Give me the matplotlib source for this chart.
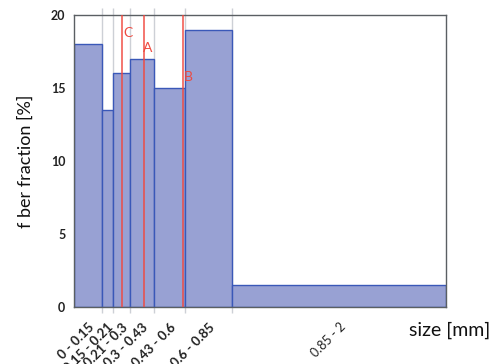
import matplotlib
matplotlib.use('Agg')
import matplotlib.pyplot as plt
from matplotlib.transforms import ScaledTranslation

# bin edges in mm and fiber fraction per bin
edges = [0, 0.15, 0.21, 0.3, 0.43, 0.6, 0.85, 2.0]
fractions = [18, 13.5, 16, 17, 15, 19, 1.5]
bin_labels = ['0 - 0.15', '0.15 - 0.21', '0.21 - 0.3', '0.3 - 0.43',
              '0.43 - 0.6', '0.6 - 0.85', '0.85 - 2']

# marked sizes
marker_names = ['C', 'A', 'B']
marker_pos = [0.261, 0.376, 0.587]
marker_text_xy = [(0.291, 18.77), (0.399, 17.74), (0.613, 15.75)]

plt.rcParams['font.family'] = ['Lato', 'DejaVu Sans']

fig = plt.figure(figsize=(4.93, 3.64), dpi=100)
ax = fig.add_axes([0.1495, 0.1566, 0.7552, 0.8022])

lefts = edges[:-1]
widths = [b - a for a, b in zip(edges[:-1], edges[1:])]
centers = [a + w / 2 for a, w in zip(lefts, widths)]

# gray bin-edge lines reaching past the frame
ax.vlines(edges[1:-1], -0.42, 20.48, color='#cdd0d6', lw=1.0, zorder=0,
          clip_on=False)

ax.bar(lefts, fractions, width=widths, align='edge', color='#98a1d3',
       edgecolor='#3a58b8', linewidth=1.0, zorder=2)

for name, x, (tx, ty) in zip(marker_names, marker_pos, marker_text_xy):
    ax.axvline(x, color='#f0493f', lw=1.4, alpha=0.75, zorder=3)
    ax.text(tx, ty, name, color='#ee4a40', fontsize=10, ha='center',
            va='center', zorder=4)

ax.set_xlim(0, 2)
ax.set_ylim(0, 20)
ax.set_yticks([0, 5, 10, 15, 20])
ax.set_xticks(centers)
ax.set_xticklabels(bin_labels, rotation=45, ha='right', va='top',
                   rotation_mode='anchor', fontsize=9.5)
shift = ScaledTranslation(-4 / 100, 0, fig.dpi_scale_trans)
for lbl in ax.get_xticklabels():
    lbl.set_fontweight('bold')
    lbl.set_transform(lbl.get_transform() + shift)
ax.get_xticklabels()[-1].set_fontweight('normal')
ax.get_xticklabels()[-1].set_fontsize(9)
ax.tick_params(axis='x', length=0, pad=10, colors='#222222')
ax.tick_params(axis='y', length=0, pad=6, labelsize=9, colors='#222222')
for lbl in ax.get_yticklabels():
    lbl.set_fontweight('bold')

for s in ax.spines.values():
    s.set_color('#5a5f63')
    s.set_linewidth(1.0)

ax.set_ylabel('f ber fraction [%]', fontsize=13, color='#111111', labelpad=12)
fig.text(0.995, 0.093, 'size [mm]', fontsize=14, ha='right', va='center',
         color='#111111')

fig.savefig('out.png', dpi=100)
